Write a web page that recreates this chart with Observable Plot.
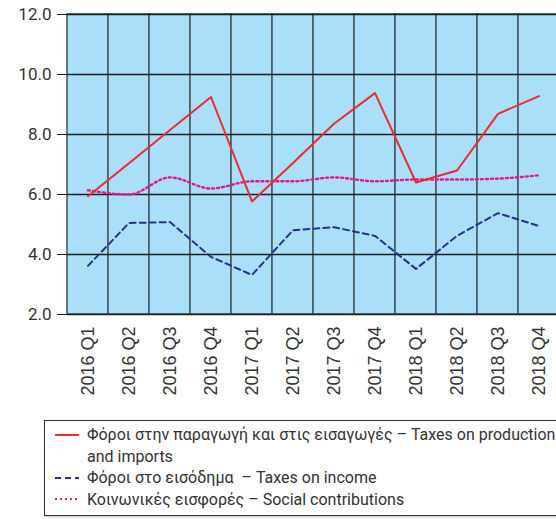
<!DOCTYPE html>
<html>
<head>
<meta charset="utf-8">
<script src="https://cdn.jsdelivr.net/npm/d3@7"></script>
<script src="https://cdn.jsdelivr.net/npm/@observablehq/plot@0.6"></script>
<style>
  html, body { margin: 0; padding: 0; background: #fff; overflow: hidden; width: 556px; height: 519px; }
  #chart svg { overflow: hidden; display: block; }
  #legend {
    margin-left: 44px; margin-top: 20px; width: 560px; height: 96px;
    border: 1px solid #333; box-sizing: border-box; padding-top: 3px;
    font-family: Roboto, "Noto Sans", sans-serif; font-size: 16px; color: #333;
    box-shadow: 1px 1px 2px rgba(0,0,0,0.25);
  }
  .row { display: flex; align-items: center; height: 21.5px; white-space: nowrap; }
  .sw { width: 24px; margin-left: 10px; margin-right: 8px; flex: none; }
  .indent { margin-left: 42px; }
</style>
</head>
<body>
<div id="chart"></div>
<div id="legend"></div>
<script>
const quarters = ["2016 Q1","2016 Q2","2016 Q3","2016 Q4","2017 Q1","2017 Q2","2017 Q3","2017 Q4","2018 Q1","2018 Q2","2018 Q3","2018 Q4"];
const production = [5.94, 7.04, 8.15, 9.25, 5.77, 7.05, 8.36, 9.38, 6.40, 6.80, 8.69, 9.28];
const income = [3.62, 5.05, 5.08, 3.92, 3.32, 4.81, 4.91, 4.62, 3.52, 4.62, 5.38, 4.95];
const social = [6.14, 6.00, 6.57, 6.20, 6.44, 6.44, 6.57, 6.44, 6.50, 6.50, 6.53, 6.64];
const yTicks = [2, 4, 6, 8, 10, 12];
const seriesNames = [
  "Φόροι στην παραγωγή και στις εισαγωγές – Taxes on production",
  "Φόροι στο εισόδημα  – Taxes on income",
  "Κοινωνικές εισφορές – Social contributions"
];
const colors = ["#ee2a2e", "#2b2f8f", "#e8168c"];
const dashes = [null, "6,4", "2,3"];

const rows = (vals) => quarters.map((q, i) => ({q, v: vals[i]}));

const chart = Plot.plot({
  width: 556,
  height: 400,
  marginTop: 14,
  marginBottom: 86,
  marginLeft: 67,
  marginRight: 0,
  x: {type: "band", domain: quarters, range: [67, 559], padding: 0},
  y: {domain: [2, 12]},
  marks: [
    Plot.cell(quarters, {x: d => d, fill: "#a9dff8", stroke: "#4a5a62", strokeWidth: 1.6, inset: 0}),
    Plot.ruleY(yTicks, {y: d => d, stroke: "#1e1e1e", strokeWidth: 1.3}),
    Plot.axisY({ticks: yTicks, tickSize: 10, tickPadding: 6, tickFormat: d => d.toFixed(1),
      fontSize: 17, fontFamily: "Roboto, sans-serif", color: "#333", stroke: "#222", label: null}),
    Plot.axisX({tickSize: 0, tickPadding: 12, tickRotate: -90, fontSize: 18,
      fontFamily: "Liberation Sans, Arial, sans-serif", color: "#333", label: null}),
    Plot.line(rows(social), {x: "q", y: "v", stroke: colors[2], strokeWidth: 2.4, strokeDasharray: dashes[2], curve: "monotone-x"}),
    Plot.line(rows(income), {x: "q", y: "v", stroke: colors[1], strokeWidth: 2, strokeDasharray: dashes[1]}),
    Plot.line(rows(production), {x: "q", y: "v", stroke: colors[0], strokeWidth: 2})
  ]
});
document.getElementById("chart").appendChild(chart);

const legend = document.getElementById("legend");
const sw = (i) => `<svg class="sw" width="24" height="6"><line x1="0" x2="24" y1="3" y2="3" stroke="${colors[i]}" stroke-width="2" ${dashes[i] ? `stroke-dasharray="${dashes[i]}"` : ""}/></svg>`;
legend.innerHTML =
  `<div class="row">${sw(0)}<span>${seriesNames[0]}</span></div>` +
  `<div class="row"><span class="indent">and imports</span></div>` +
  `<div class="row">${sw(1)}<span style="white-space:pre">${seriesNames[1]}</span></div>` +
  `<div class="row">${sw(2)}<span>${seriesNames[2]}</span></div>`;
</script>
</body>
</html>
